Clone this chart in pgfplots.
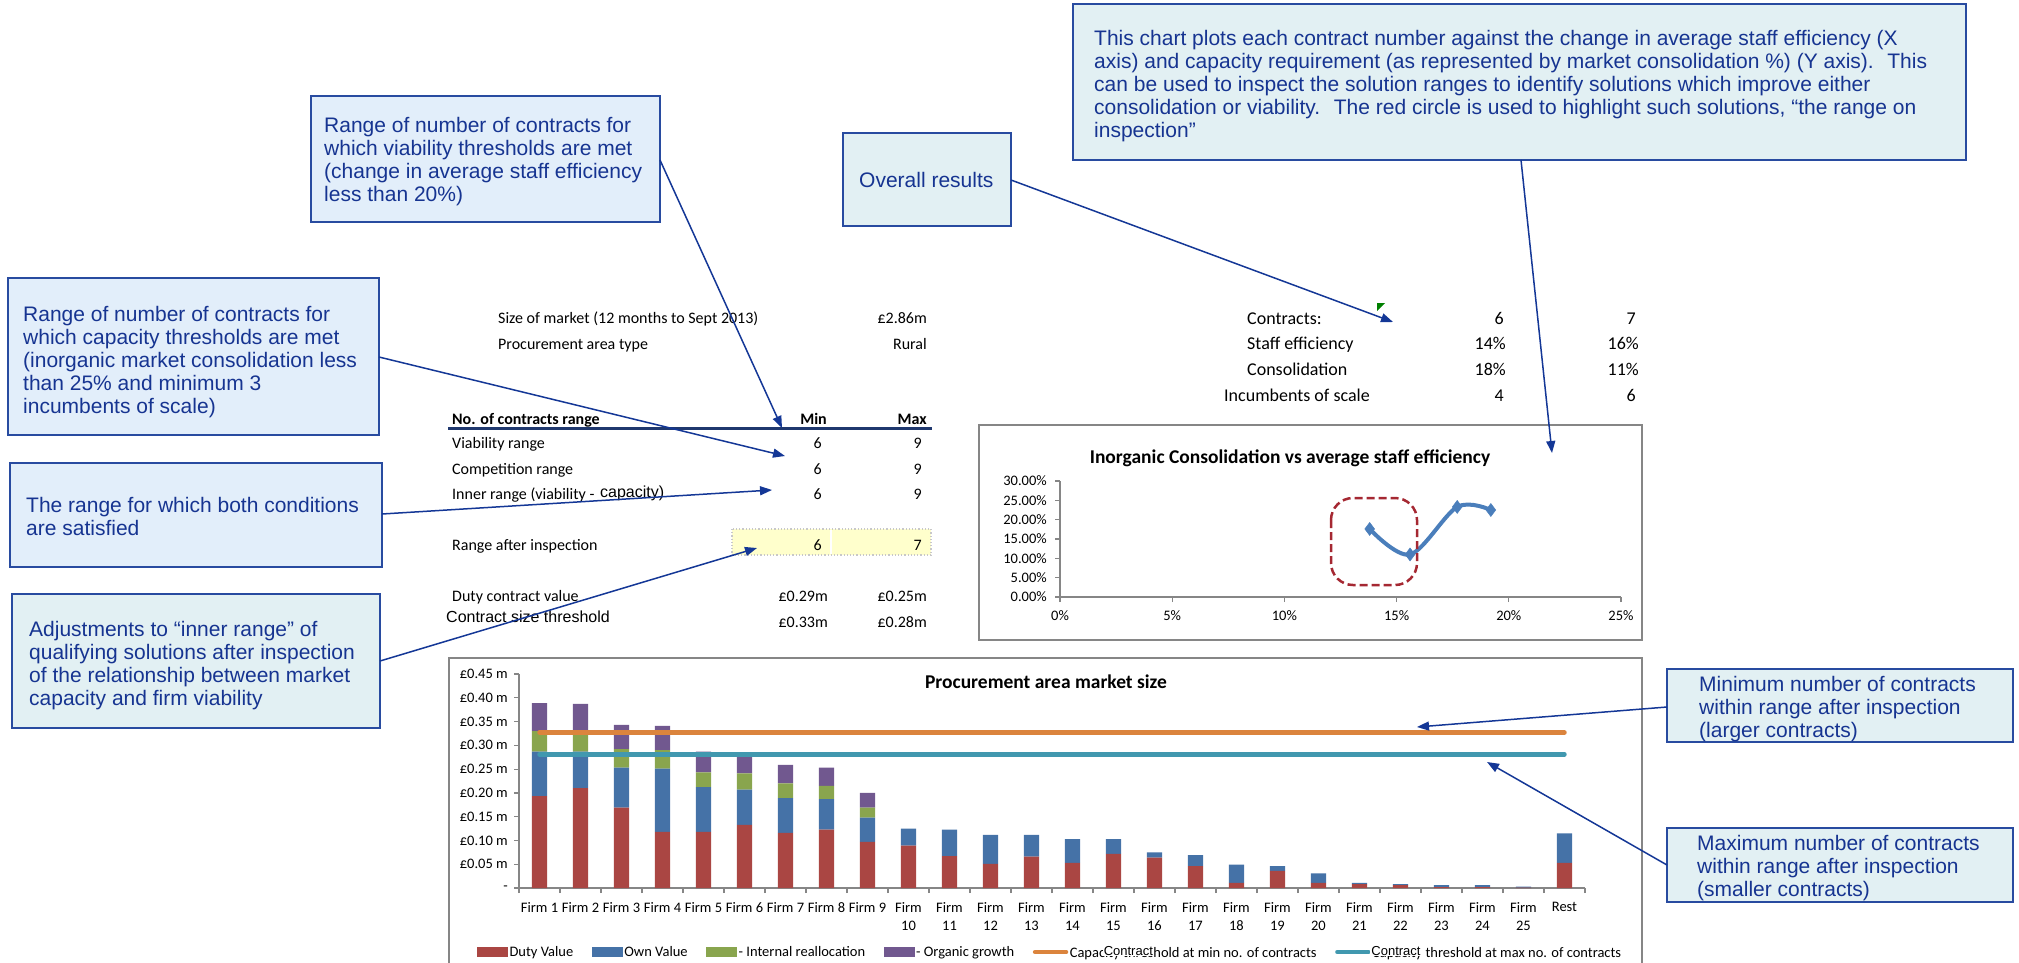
\documentclass[border=0pt]{standalone}
\usepackage{pgfplots}
\pgfplotsset{compat=1.18}
\usepackage{pgfplotstable}
\usepackage{fontspec}
\setmainfont{Carlito}
\newfontfamily\arialfont{Liberation Sans}
\usetikzlibrary{arrows.meta}

\definecolor{dutyred}{HTML}{AA4643}
\definecolor{ownblue}{HTML}{4572A7}
\definecolor{intgreen}{HTML}{89A54E}
\definecolor{orgpurple}{HTML}{71588F}
\definecolor{capaorange}{HTML}{DB843D}
\definecolor{capateal}{HTML}{4198AF}
\definecolor{axisgrey}{RGB}{134,134,134}
\definecolor{lineblue}{HTML}{4A7EBB}
\definecolor{callfillA}{RGB}{226,238,250}
\definecolor{callfillB}{RGB}{226,240,243}
\definecolor{calldraw}{RGB}{40,75,160}
\definecolor{calltext}{RGB}{22,52,145}
\definecolor{arrowblue}{RGB}{20,55,150}
\definecolor{rulenavy}{RGB}{31,56,110}
\definecolor{cellyellow}{RGB}{255,255,204}
\definecolor{cellgrey}{RGB}{200,200,200}
\definecolor{circlered}{RGB}{165,40,50}
\definecolor{notegreen}{RGB}{0,128,0}

\newcommand{\callfont}{\arialfont\fontsize{21}{23}\selectfont}
\newcommand{\tabfont}{\fontsize{16}{19}\selectfont}
\newcommand{\restabfont}{\fontsize{18}{21}\selectfont}
\newcommand{\tickfont}{\fontsize{14.5}{18.5}\selectfont}
\newcommand{\titlefont}{\bfseries\fontsize{19.5}{23}\selectfont}
\newcommand{\overlayfont}{\arialfont\fontsize{13}{15}\selectfont}

% one line of callout text, placed on its baseline
\newcommand{\cl}[3]{\node[anchor=base west,inner sep=0pt,font=\callfont,text=calltext] at (#1,#2) {#3};}
% table cells: left-aligned label and right-aligned value
\newcommand{\tl}[3]{\node[anchor=base west,inner sep=0pt,font=\tabfont] at (#1,#2) {#3};}
\newcommand{\tr}[3]{\node[anchor=base east,inner sep=0pt,font=\tabfont] at (#1,#2) {#3};}
\newcommand{\rl}[3]{\node[anchor=base west,inner sep=0pt,font=\restabfont] at (#1,#2) {#3};}
\newcommand{\rr}[3]{\node[anchor=base east,inner sep=0pt,font=\restabfont] at (#1,#2) {#3};}
% a white text box laid over the text just before it
\newcommand{\overbox}[2]{\llap{\raisebox{2pt}{\fboxsep=#1\colorbox{white}{\overlayfont #2}}}}

\pgfplotsset{
  barlegend/.style={legend image code/.code={\fill[##1,draw=none] (0pt,-5pt) rectangle (31pt,5pt);}},
  linelegend/.style={legend image code/.code={\draw[##1,line cap=round] (0pt,0pt) -- (31pt,0pt);}},
}

% market size by firm (GBP m)
\pgfplotstableread{
i  duty  own   intern organic
0  0.193 0.094 0.043  0.059
1  0.210 0.077 0.038  0.062
2  0.169 0.084 0.039  0.051
3  0.118 0.133 0.039  0.051
4  0.118 0.094 0.031  0.044
5  0.133 0.074 0.034  0.040
6  0.116 0.073 0.031  0.039
7  0.123 0.064 0.028  0.038
8  0.097 0.051 0.021  0.031
9  0.089 0.036 0      0
10 0.067 0.056 0      0
11 0.051 0.061 0      0
12 0.066 0.046 0      0
13 0.053 0.050 0      0
14 0.072 0.031 0      0
15 0.064 0.011 0      0
16 0.046 0.023 0      0
17 0.011 0.038 0      0
18 0.036 0.010 0      0
19 0.011 0.020 0      0
20 0.008 0.003 0      0
21 0.006 0.002 0      0
22 0.002 0.004 0      0
23 0.002 0.004 0      0
24 0.001 0.002 0      0
25 0.053 0.062 0      0
}\bardata

\begin{document}
\begin{tikzpicture}
\path[use as bounding box] (0pt,0pt) rectangle (2019pt,-962pt);

\begin{scope}[x=1pt,y=-1pt]
  \coordinate (barSW) at (519,888);
  \coordinate (smallSW) at (1060,597);

  % chart frames
  \draw[axisgrey,line width=2pt] (449,964) -- (449,658) -- (1642,658) -- (1642,964);
  \draw[axisgrey,line width=2pt] (979,425) rectangle (1642,640);

  % callout boxes
  \draw[calldraw,fill=callfillA,line width=1.5pt] (311,96) rectangle (660,222);
  \draw[calldraw,fill=callfillA,line width=1.5pt] (8,278) rectangle (379,435);
  \draw[calldraw,fill=callfillA,line width=1.5pt] (10,463) rectangle (382,567);
  \draw[calldraw,fill=callfillB,line width=1.5pt] (12,594) rectangle (380,728);
  \draw[calldraw,fill=callfillB,line width=1.5pt] (843,133) rectangle (1011,226);
  \draw[calldraw,fill=callfillB,line width=1.5pt] (1073,4) rectangle (1966,160);
  \draw[calldraw,fill=callfillB,line width=1.5pt] (1667,669) rectangle (2013,742);
  \draw[calldraw,fill=callfillB,line width=1.5pt] (1667,828) rectangle (2013,902);

  \cl{324}{132}{Range of number of contracts for}
  \cl{324}{155}{which viability thresholds are met}
  \cl{324}{178}{(change in average staff efficiency}
  \cl{324}{201}{less than 20\%)}

  \cl{23}{321}{Range of number of contracts for}
  \cl{23}{344}{which capacity thresholds are met}
  \cl{23}{367}{(inorganic market consolidation less}
  \cl{23}{390}{than 25\% and minimum 3}
  \cl{23}{413}{incumbents of scale)}

  \cl{26}{512}{The range for which both conditions}
  \cl{26}{535}{are satisfied}

  \cl{29}{636}{Adjustments to “inner range” of}
  \cl{29}{659}{qualifying solutions after inspection}
  \cl{29}{682}{of the relationship between market}
  \cl{29}{705}{capacity and firm viability}

  \cl{859}{187}{Overall results}

  \cl{1094}{45}{This chart plots each contract number against the change in average staff efficiency (X}
  \cl{1094}{68}{axis) and capacity requirement (as represented by market consolidation \%) (Y axis).~ This}
  \cl{1094}{91}{can be used to inspect the solution ranges to identify solutions which improve either}
  \cl{1094}{114}{consolidation or viability.~ The red circle is used to highlight such solutions, “the range on}
  \cl{1094}{137}{inspection”}

  \cl{1699}{691}{Minimum number of contracts}
  \cl{1699}{714}{within range after inspection}
  \cl{1699}{737}{(larger contracts)}

  \cl{1697}{850}{Maximum number of contracts}
  \cl{1697}{873}{within range after inspection}
  \cl{1697}{896}{(smaller contracts)}

  % market summary table
  \tl{498}{323}{Size of market (12 months to Sept 2013)}
  \tr{927}{323}{£2.86m}
  \tl{498}{349}{Procurement area type}
  \tr{927}{349}{Rural}

  \node[anchor=base west,inner sep=0pt,font=\tabfont\bfseries] at (452,424) {No. of contracts range};
  \node[anchor=base east,inner sep=0pt,font=\tabfont\bfseries] at (827,424) {Min};
  \node[anchor=base east,inner sep=0pt,font=\tabfont\bfseries] at (927,424) {Max};
  \draw[rulenavy,line width=2.5pt] (448,428.5) -- (932,428.5);

  \tl{452}{448}{Viability range}     \tr{822}{448}{6} \tr{922}{448}{9}
  \tl{452}{474}{Competition range}   \tr{822}{474}{6} \tr{922}{474}{9}
  \tl{452}{499}{Inner range (viability -} \tr{822}{499}{6} \tr{922}{499}{9}
  \node[anchor=base west,inner sep=0pt,font=\arialfont\fontsize{16}{19}\selectfont] at (600,497) {capacity)};

  \fill[cellyellow] (732,529) rectangle (931,555);
  \draw[cellgrey,line width=1.2pt,dotted] (732,529) rectangle (931,555);
  \draw[white,line width=2pt] (830.5,530) -- (830.5,554);
  \tl{452}{550}{Range after inspection} \tr{822}{550}{6} \tr{922}{550}{7}

  \tl{452}{601}{Duty contract value} \tr{828}{601}{£0.29m} \tr{927}{601}{£0.25m}
  \node[anchor=base west,inner sep=0pt,font=\arialfont\fontsize{16}{19}\selectfont] at (446,622) {Contract size threshold};
  \tr{828}{627}{£0.33m} \tr{927}{627}{£0.28m}

  % overall results table
  \rl{1247}{324}{Contracts:}          \rr{1504}{324}{6}   \rr{1636}{324}{7}
  \rl{1247}{349}{Staff efficiency}    \rr{1506}{349}{14\%} \rr{1639}{349}{16\%}
  \rl{1247}{375}{Consolidation}       \rr{1506}{375}{18\%} \rr{1639}{375}{11\%}
  \rl{1224}{401}{Incumbents of scale} \rr{1504}{401}{4}   \rr{1636}{401}{6}
  \fill[notegreen] (1377,303) -- (1385,303) -- (1377,311) -- cycle;

  % chart titles
  \node[anchor=base,inner sep=0pt,font=\titlefont] at (1046,688) {Procurement area market size};
  \node[anchor=base,inner sep=0pt,font=\titlefont] at (1290,463) {Inorganic Consolidation vs average staff efficiency};
\end{scope}

% stacked bars of market size by firm
\begin{axis}[
  at={(barSW)}, anchor=south west, scale only axis,
  width=1066pt, height=214pt,
  xmin=-0.5, xmax=25.5, ymin=0, ymax=0.45,
  ybar stacked, bar width=15.4pt,
  axis lines=left,
  axis line style={-, draw=axisgrey, line width=1.5pt},
  tick align=outside,
  major tick length=5pt, minor tick length=5pt,
  tick style={draw=axisgrey, line width=1.2pt},
  xtick={0,...,25},
  major x tick style={draw=none},
  minor xtick={-0.5,0.5,...,25.5},
  xticklabels={Firm 1,Firm 2,Firm 3,Firm 4,Firm 5,Firm 6,Firm 7,Firm 8,Firm 9,
    {Firm\\10},{Firm\\11},{Firm\\12},{Firm\\13},{Firm\\14},{Firm\\15},{Firm\\16},
    {Firm\\17},{Firm\\18},{Firm\\19},{Firm\\20},{Firm\\21},{Firm\\22},{Firm\\23},
    {Firm\\24},{Firm\\25},Rest},
  xticklabel style={font=\tickfont, align=center, inner sep=0pt, yshift=-9pt},
  ytick={0,0.05,0.1,0.15,0.2,0.25,0.3,0.35,0.4,0.45},
  yticklabels={-,£0.05 m,£0.10 m,£0.15 m,£0.20 m,£0.25 m,£0.30 m,£0.35 m,£0.40 m,£0.45 m},
  yticklabel style={font=\tickfont, inner sep=0pt, xshift=-6pt},
]
\addplot[fill=dutyred,draw=none] table[x=i,y=duty] {\bardata};
\addplot[fill=ownblue,draw=none] table[x=i,y=own] {\bardata};
\addplot[fill=intgreen,draw=none] table[x=i,y=intern] {\bardata};
\addplot[fill=orgpurple,draw=none] table[x=i,y=organic] {\bardata};
\end{axis}

% contract size thresholds and the legend
\begin{axis}[
  at={(barSW)}, anchor=south west, scale only axis,
  width=1066pt, height=214pt,
  xmin=-0.5, xmax=25.5, ymin=0, ymax=0.45,
  hide axis,
  legend columns=6,
  legend style={at={(0.498,-0.299)}, anchor=center, draw=none, fill=none,
    font=\tickfont, nodes={inner sep=1.5pt},
    /tikz/every even column/.append style={column sep=17pt}},
]
\addlegendimage{barlegend,fill=dutyred}\addlegendentry{Duty Value}
\addlegendimage{barlegend,fill=ownblue}\addlegendentry{Own Value}
\addlegendimage{barlegend,fill=intgreen}\addlegendentry{- Internal reallocation}
\addlegendimage{barlegend,fill=orgpurple}\addlegendentry{- Organic growth}
\addplot[linelegend,capaorange,line width=4.5pt,line cap=round] coordinates {(0,0.327) (25,0.327)};
\addlegendentry{Capacity thres\overbox{0.5pt}{Contract}hold at min no. of contracts}
\addplot[linelegend,capateal,line width=4.5pt,line cap=round] coordinates {(0,0.281) (25,0.281)};
\addlegendentry{Capacity \overbox{1pt}{Contract\hspace{4pt}}threshold at max no. of contracts}
\end{axis}

% consolidation against staff efficiency, contracts 6 to 9
\begin{axis}[
  at={(smallSW)}, anchor=south west, scale only axis,
  width=561pt, height=116pt,
  xmin=0, xmax=25, ymin=0, ymax=30,
  axis lines=left,
  axis line style={-, draw=axisgrey, line width=1.5pt},
  tick align=outside, major tick length=5pt,
  tick style={draw=axisgrey, line width=1.2pt},
  xtick={0,5,10,15,20,25}, ytick={0,5,10,15,20,25,30},
  /pgf/number format/assume math mode=true,
  xticklabel={\pgfmathprintnumber{\tick}\%},
  yticklabel={\pgfmathprintnumber[fixed,fixed zerofill,precision=2]{\tick}\%},
  xticklabel style={font=\tickfont, inner sep=0pt, yshift=-8.5pt},
  yticklabel style={font=\tickfont, inner sep=0pt, xshift=-8pt},
  clip=false,
]
\addplot[lineblue, line width=4pt, smooth, tension=0.55,
  mark=diamond*, mark size=6.5pt, mark options={fill=lineblue,draw=lineblue,line width=0.5pt}]
  coordinates {(13.8,17.6) (15.6,11.0) (17.7,23.3) (19.2,22.5)};
\end{axis}

\begin{scope}[x=1pt,y=-1pt]
  % range on inspection
  \draw[circlered,line width=2.5pt,dash pattern=on 8pt off 4pt,rounded corners=22pt]
    (1331,498) rectangle (1417,585);

  % callout pointers
  \begin{scope}[arrowblue,line width=1.5pt,-{Triangle[length=12pt,width=9pt]}]
    \draw (660,160) -- (782,428);
    \draw (379,357) -- (785,456);
    \draw (382,514) -- (772,490);
    \draw (380,661) -- (757,548);
    \draw (1011,180) -- (1393,322);
    \draw (1521,160) -- (1552,453);
    \draw (1667,707) -- (1417,727);
    \draw (1667,865) -- (1487,762);
  \end{scope}
\end{scope}
\end{tikzpicture}
\end{document}
